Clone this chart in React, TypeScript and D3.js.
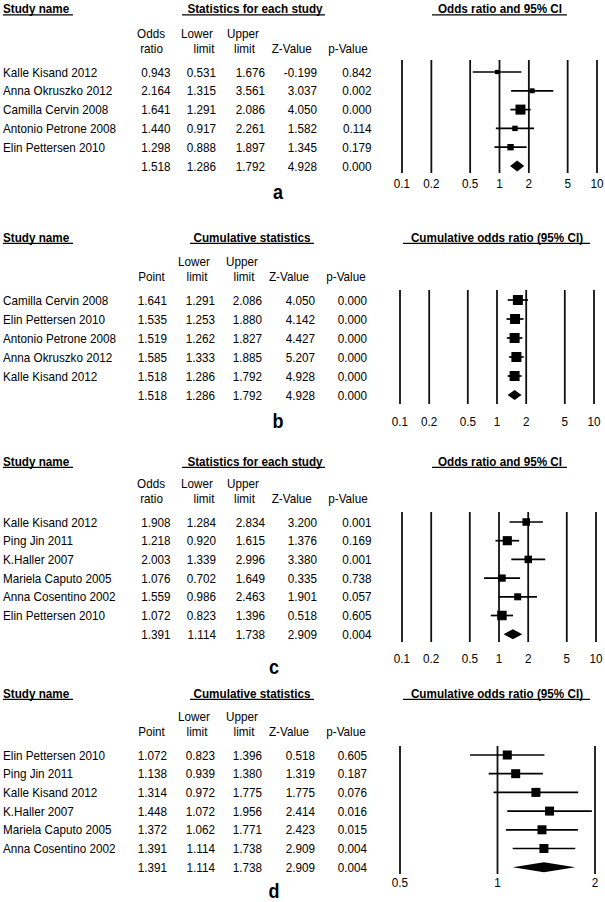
import React from "react";
import * as d3 from "d3";

// ---------- Data ----------
const namesA = ["Kalle Kisand 2012", "Anna Okruszko 2012", "Camilla Cervin 2008", "Antonio Petrone 2008", "Elin Pettersen 2010"];
const orA = [0.943, 2.164, 1.641, 1.44, 1.298];
const loA = [0.531, 1.315, 1.291, 0.917, 0.888];
const hiA = [1.676, 3.561, 2.086, 2.261, 1.897];
const zA = [-0.199, 3.037, 4.05, 1.582, 1.345];
const pA = [0.842, 0.002, 0.0, 0.114, 0.179];
const summaryA = [1.518, 1.286, 1.792, 4.928, 0.0];

const namesB = ["Camilla Cervin 2008", "Elin Pettersen 2010", "Antonio Petrone 2008", "Anna Okruszko 2012", "Kalle Kisand 2012"];
const pointB = [1.641, 1.535, 1.519, 1.585, 1.518];
const loB = [1.291, 1.253, 1.262, 1.333, 1.286];
const hiB = [2.086, 1.88, 1.827, 1.885, 1.792];
const zB = [4.05, 4.142, 4.427, 5.207, 4.928];
const pB = [0.0, 0.0, 0.0, 0.0, 0.0];
const summaryB = [1.518, 1.286, 1.792, 4.928, 0.0];

const namesC = ["Kalle Kisand 2012", "Ping Jin 2011", "K.Haller 2007", "Mariela Caputo 2005", "Anna Cosentino 2002", "Elin Pettersen 2010"];
const orC = [1.908, 1.218, 2.003, 1.076, 1.559, 1.072];
const loC = [1.284, 0.92, 1.339, 0.702, 0.986, 0.823];
const hiC = [2.834, 1.615, 2.996, 1.649, 2.463, 1.396];
const zC = [3.2, 1.376, 3.38, 0.335, 1.901, 0.518];
const pC = [0.001, 0.169, 0.001, 0.738, 0.057, 0.605];
const summaryC = [1.391, 1.114, 1.738, 2.909, 0.004];

const namesD = ["Elin Pettersen 2010", "Ping Jin 2011", "Kalle Kisand 2012", "K.Haller 2007", "Mariela Caputo 2005", "Anna Cosentino 2002"];
const pointD = [1.072, 1.138, 1.314, 1.448, 1.372, 1.391];
const loD = [0.823, 0.939, 0.972, 1.072, 1.062, 1.114];
const hiD = [1.396, 1.38, 1.775, 1.956, 1.771, 1.738];
const zD = [0.518, 1.319, 1.775, 2.414, 2.423, 2.909];
const pD = [0.605, 0.187, 0.076, 0.016, 0.015, 0.004];
const summaryD = [1.391, 1.114, 1.738, 2.909, 0.004];

const ticksWide = [0.1, 0.2, 0.5, 1, 2, 5, 10];
const tickLabelsWide = ["0.1", "0.2", "0.5", "1", "2", "5", "10"];
const ticksNarrow = [0.5, 1, 2];
const tickLabelsNarrow = ["0.5", "1", "2"];

const headStudy = ["Odds", "Lower", "Upper", "", ""];
const headStudy2 = ["ratio", "limit", "limit", "Z-Value", "p-Value"];
const headCum = ["", "Lower", "Upper", "", ""];
const headCum2 = ["Point", "limit", "limit", "Z-Value", "p-Value"];

// ---------- Layout ----------
const FONT = "'Liberation Sans', Arial, Helvetica, sans-serif";
const SX = 0.9;

const studyLayout = {
  valEnds: [170.5, 216, 265, 317, 371.5],
  h1Centers: [151, 197, 243, 0, 0],
  h2Centers: [151.5, 204, 244.5, 291.7, 348],
  groupCenter: 255, groupUl: [182, 325],
  plotCenter: 500, plotUl: [432, 567],
};
const cumLayout = {
  valEnds: [167, 215, 262, 315, 367],
  h1Centers: [0, 194, 242, 0, 0],
  h2Centers: [151.5, 197, 244, 289, 346],
  groupCenter: 252, groupUl: [190, 314],
  plotCenter: 497, plotUl: [403, 590],
};

type Panel = {
  letter: string;
  names: string[];
  est: number[]; lo: number[]; hi: number[]; z: number[]; p: number[];
  summary: number[];
  head1: string[]; head2: string[];
  group: string; plotTitle: string;
  ticks: number[]; tickLabels: string[];
  lay: typeof studyLayout;
  row0: number; step: number; nameY: number;
  xRange: [number, number];
  lineTop: number; lineBottom: number; tickY: number; letterY: number; letterX: number;
  sq: [number, number] | number; diamondH: number;
};

const panels: Panel[] = [
  {
    letter: "a", names: namesA, est: orA, lo: loA, hi: hiA, z: zA, p: pA, summary: summaryA,
    head1: headStudy, head2: headStudy2, group: "Statistics for each study", plotTitle: "Odds ratio and 95% CI",
    ticks: ticksWide, tickLabels: tickLabelsWide, lay: studyLayout,
    row0: 72, step: 18.8, nameY: 8.5, xRange: [402, 597], lineTop: 60, lineBottom: 173, tickY: 183, letterY: 192, letterX: 278,
    sq: [4.3, 10], diamondH: 11,
  },
  {
    letter: "b", names: namesB, est: pointB, lo: loB, hi: hiB, z: zB, p: pB, summary: summaryB,
    head1: headCum, head2: headCum2, group: "Cumulative statistics", plotTitle: "Cumulative odds ratio (95% CI)",
    ticks: ticksWide, tickLabels: tickLabelsWide, lay: cumLayout,
    row0: 300, step: 19, nameY: 237, xRange: [400, 594], lineTop: 290, lineBottom: 404, tickY: 421, letterY: 421, letterX: 278,
    sq: 10, diamondH: 10,
  },
  {
    letter: "c", names: namesC, est: orC, lo: loC, hi: hiC, z: zC, p: pC, summary: summaryC,
    head1: headStudy, head2: headStudy2, group: "Statistics for each study", plotTitle: "Odds ratio and 95% CI",
    ticks: ticksWide, tickLabels: tickLabelsWide, lay: studyLayout,
    row0: 522, step: 18.7, nameY: 461, xRange: [402, 596], lineTop: 512, lineBottom: 642, tickY: 658, letterY: 667, letterX: 274,
    sq: [7, 9.5], diamondH: 10,
  },
  {
    letter: "d", names: namesD, est: pointD, lo: loD, hi: hiD, z: zD, p: pD, summary: summaryD,
    head1: headCum, head2: headCum2, group: "Cumulative statistics", plotTitle: "Cumulative odds ratio (95% CI)",
    ticks: ticksNarrow, tickLabels: tickLabelsNarrow, lay: cumLayout,
    row0: 755, step: 18.7, nameY: 693, xRange: [400, 595], lineTop: 746, lineBottom: 874, tickY: 882, letterY: 891, letterX: 274,
    sq: 9, diamondH: 10,
  },
];

// center -> baseline offset for 13px Arial
const BL = 4.6;

function T({ x, y, anchor = "start", size = 13, weight = "normal", children }: any) {
  return (
    <text
      transform={`translate(${x},${y}) scale(${SX},1)`}
      textAnchor={anchor}
      fontSize={size}
      fontWeight={weight}
      fontFamily={FONT}
      fill="#000"
    >
      {children}
    </text>
  );
}

const fmt = (v: number) => v.toFixed(3);

function ForestPanel({ P }: { P: Panel }) {
  const x = d3.scaleLog().domain([P.ticks[0], P.ticks[P.ticks.length - 1]]).range(P.xRange);
  const n = P.names.length;
  const rowY = (i: number) => P.row0 + i * P.step;
  const weights = P.lo.map((l, i) => {
    const se = (Math.log(P.hi[i]) - Math.log(l)) / 3.92;
    return Math.sqrt(1 / (se * se));
  });
  const side = Array.isArray(P.sq)
    ? d3.scaleLinear().domain(d3.extent(weights) as [number, number]).range(P.sq as [number, number])
    : () => P.sq as number;
  const L = P.lay;
  const cols = [P.est, P.lo, P.hi, P.z, P.p];
  const h1y = P.row0 - 38.5 + BL;
  const h2y = P.row0 - 23.5 + BL;

  return (
    <g>
      {/* headers */}
      <T x={3} y={P.nameY + BL} weight="bold">Study name</T>
      <line x1={3} x2={73} y1={P.nameY + 6.3} y2={P.nameY + 6.3} stroke="#000" strokeWidth={1.3} />
      <T x={L.groupCenter} y={P.nameY + BL} weight="bold" anchor="middle">{P.group}</T>
      <line x1={L.groupUl[0]} x2={L.groupUl[1]} y1={P.nameY + 6.3} y2={P.nameY + 6.3} stroke="#000" strokeWidth={1.3} />
      <T x={L.plotCenter} y={P.nameY + BL} weight="bold" anchor="middle">{P.plotTitle}</T>
      <line x1={L.plotUl[0]} x2={L.plotUl[1]} y1={P.nameY + 6.3} y2={P.nameY + 6.3} stroke="#000" strokeWidth={1.3} />

      {P.head1.map((h, j) => (h ? <T key={"h1" + j} x={L.h1Centers[j]} y={h1y} anchor="middle">{h}</T> : null))}
      {P.head2.map((h, j) => (h ? <T key={"h2" + j} x={L.h2Centers[j]} y={h2y} anchor="middle">{h}</T> : null))}

      {/* rows */}
      {P.names.map((name, i) => (
        <g key={name}>
          <T x={3} y={rowY(i) + BL}>{name}</T>
          {cols.map((c, j) => (
            <T key={j} x={L.valEnds[j]} y={rowY(i) + BL} anchor="end">{fmt(c[i])}</T>
          ))}
        </g>
      ))}
      {P.summary.map((v, j) => (
        <T key={"s" + j} x={L.valEnds[j]} y={rowY(n) + BL} anchor="end">{fmt(v)}</T>
      ))}

      {/* reference lines */}
      {P.ticks.map((t, k) => (
        <g key={"t" + t}>
          <line x1={x(t)} x2={x(t)} y1={P.lineTop} y2={P.lineBottom} stroke="#111" strokeWidth={1.8} />
          <T x={x(t)} y={P.tickY + BL} anchor="middle" size={13}>{P.tickLabels[k]}</T>
        </g>
      ))}

      {/* study marks */}
      {P.names.map((name, i) => {
        const y = rowY(i);
        const s = side(weights[i]);
        return (
          <g key={"m" + name}>
            <line x1={x(P.lo[i])} x2={x(P.hi[i])} y1={y} y2={y} stroke="#000" strokeWidth={1.7} />
            <rect x={x(P.est[i]) - s / 2} y={y - s / 2} width={s} height={s} fill="#000" />
          </g>
        );
      })}
      {/* summary diamond */}
      {(() => {
        const y = rowY(n);
        const h = P.diamondH / 2;
        const pts = [
          [x(P.summary[1]), y],
          [x(P.summary[0]), y - h],
          [x(P.summary[2]), y],
          [x(P.summary[0]), y + h],
        ];
        return <polygon points={pts.map((p) => p.join(",")).join(" ")} fill="#000" />;
      })()}

      <T x={P.letterX} y={P.letterY + 7} anchor="middle" size={20} weight="bold">{P.letter}</T>
    </g>
  );
}

export default function App() {
  return (
    <svg
      width={605}
      height={902}
      style={{ position: "absolute", left: 0, top: 0, background: "#fff" }}
    >
      <rect width={605} height={902} fill="#fff" />
      {panels.map((P) => (
        <ForestPanel key={P.letter} P={P} />
      ))}
    </svg>
  );
}
